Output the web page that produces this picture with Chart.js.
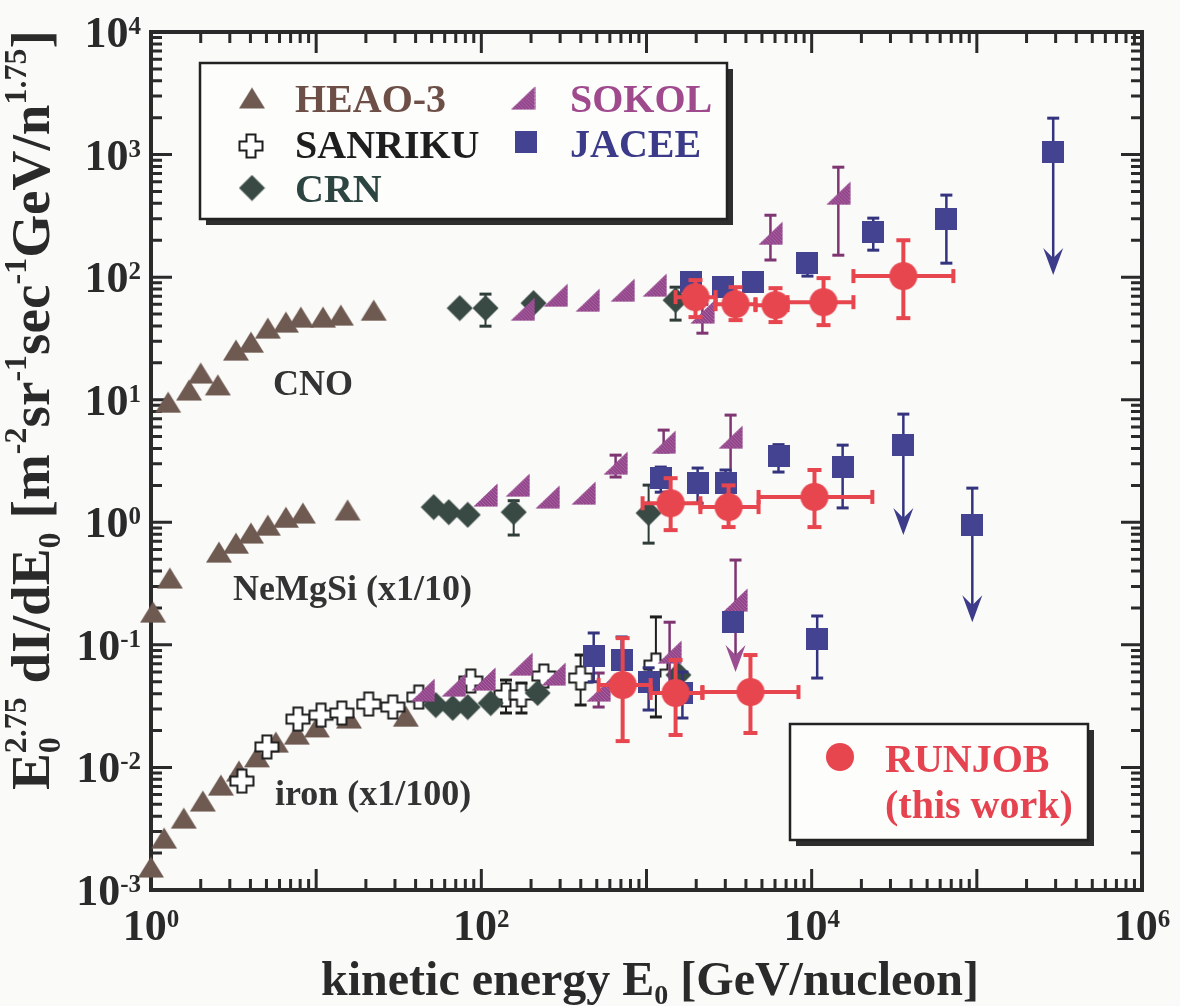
<!DOCTYPE html>
<html lang="en">
<head>
<meta charset="UTF-8">
<title>CNO, NeMgSi and iron spectra</title>
<script src="https://cdn.jsdelivr.net/npm/chart.js"></script>
<style>
  html, body { margin: 0; padding: 0; background: #fafaf8; }
  canvas { display: block; }
</style>
</head>
<body>
<canvas id="spectra" width="1180" height="1006"></canvas>
<script>
// kinetic energy E0 [GeV/nucleon] and E0^2.75 dI/dE0 for each experiment
// (NeMgSi scaled x1/10, iron scaled x1/100)

// HEAO-3
const heaoCnoE = [1.27, 1.70, 2.0, 2.54, 3.27, 4.03, 5.1, 6.56, 8.08, 11.0, 14.1, 22.3];
const heaoCnoF = [9.55, 12.0, 16.5, 13.2, 25.4, 29.5, 38.4, 43.0, 47.2, 47.2, 49.0, 53.8];
const heaoNeE = [1.03, 1.30, 2.58, 3.27, 4.03, 5.10, 6.56, 8.31, 15.5];
const heaoNeF = [0.185, 0.351, 0.571, 0.676, 0.817, 0.948, 1.10, 1.19, 1.26];
const heaoFeE = [1.0, 1.20, 1.58, 2.06, 2.65, 3.41, 4.38, 5.70, 7.64, 10.1, 15.8, 34.9];
const heaoFeF = [0.00154, 0.00265, 0.00386, 0.00532, 0.00718, 0.00935, 0.0122, 0.0161, 0.0187, 0.0214, 0.0253, 0.0262];

// SANRIKU (iron)
const sanFeE  = [3.55, 5.03, 7.75, 10.7, 14.3, 20.8, 29.1, 41.8, 86.3, 141, 175, 239, 399, 1140];
const sanFeF  = [0.00774, 0.0147, 0.0248, 0.0267, 0.0278, 0.0329, 0.0311, 0.0375, 0.0507, 0.0390, 0.0390, 0.0557, 0.0536, 0.0684];
const sanFeLo = [null, null, null, null, null, null, null, null, null, 0.0278, 0.0278, null, 0.0323, 0.0258];
const sanFeHi = [null, null, null, null, null, null, null, null, null, 0.0516, 0.0488, null, 0.0826, 0.169];

// CRN
const crnCnoE  = [74, 106, 207, 1500];
const crnCnoF  = [55.9, 55.9, 61.4, 64.9];
const crnCnoLo = [null, 39.8, null, 44.6];
const crnCnoHi = [null, 72.7, null, 82.8];
const crnNeE  = [51.5, 63.5, 82.7, 157, 1030];
const crnNeF  = [1.33, 1.21, 1.15, 1.21, 1.19];
const crnNeLo = [null, null, null, 0.787, 0.676];
const crnNeHi = [null, null, null, 1.5, 2.01];
const crnFeE = [53.0, 67.1, 82.7, 114, 219, 1560];
const crnFeF = [0.0323, 0.0306, 0.0311, 0.0335, 0.0405, 0.0568];

// SOKOL
const sokCnoE  = [178, 282, 440, 717, 1120, 2180, 5630, 14500];
const sokCnoF  = [54.8, 71.3, 64.9, 78.3, 86.1, 51.9, 228, 484];
const sokCnoLo = [null, null, null, null, null, 34.9, 138, 151];
const sokCnoHi = [null, null, null, null, null, 60, 320, 789];
const sokNeE  = [106, 166, 252, 416, 650, 1270, 3230];
const sokNeF  = [1.67, 2.01, 1.61, 1.73, 3.04, 4.51, 4.95];
const sokNeLo = [null, null, null, null, 2.34, 3.74, 2.13];
const sokNeHi = [null, null, null, null, 3.53, 5.65, 7.49];
const sokFeE   = [44.2, 68.1, 103, 173, 274, 513, 1380, 3460];
const sokFeF   = [0.0428, 0.0470, 0.0526, 0.0697, 0.0578, 0.0428, 0.0873, 0.232];
const sokFeLo  = [null, null, null, null, null, 0.0311, 0.0428, null];
const sokFeHi  = [null, null, null, null, null, 0.0589, 0.153, 0.492];
const sokFeLim = [null, null, null, null, null, null, null, 0.060];

// JACEE
const jacCnoE   = [1850, 2890, 4440, 9430, 23600, 65400, 290000];
const jacCnoF   = [91.0, 82.8, 91.0, 130, 233, 297, 1047];
const jacCnoLo  = [null, 75, null, 102, 166, 130, null];
const jacCnoHi  = [null, 98, null, 155, 303, 467, 1982];
const jacCnoLim = [null, null, null, null, null, null, 104];
const jacNeE   = [1220, 2040, 3010, 6300, 15400, 35900, 93900];
const jacNeF   = [2.29, 2.09, 2.09, 3.47, 2.82, 4.26, 0.948];
const jacNeLo  = [1.76, 1.43, 1.50, 2.57, 1.31, null, null];
const jacNeHi  = [2.82, 2.77, 2.67, 4.30, 4.26, 7.63, 1.90];
const jacNeLim = [null, null, null, null, null, 0.787, 0.153];
const jacFeE  = [479, 707, 1030, 1650, 3360, 10800];
const jacFeF  = [0.0811, 0.0752, 0.0498, 0.0405, 0.153, 0.111];
const jacFeLo = [0.050, 0.045, 0.0294, 0.0253, 0.135, 0.0536];
const jacFeHi = [0.125, 0.116, 0.065, 0.060, 0.170, 0.172];

// RUNJOB (this work)
const runCnoE   = [1980, 3460, 6040, 11800, 35900];
const runCnoF   = [68.7, 60.2, 59.1, 62.5, 102];
const runCnoLo  = [47.2, 44.6, 43.0, 40.6, 46.3];
const runCnoHi  = [94.6, 82.8, 81.3, 98.2, 200];
const runCnoELo = [1500, 2620, 4570, 7140, 17900];
const runCnoEHi = [2620, 4570, 7140, 17900, 72100];
const runNeE   = [1400, 3140, 10400];
const runNeF   = [1.43, 1.33, 1.61];
const runNeLo  = [0.863, 0.914, 0.914];
const runNeHi  = [2.29, 2.0, 2.67];
const runNeELo = [947, 2120, 4770];
const runNeEHi = [2120, 4770, 23300];
const runFeE   = [717, 1500, 4260];
const runFeF   = [0.0470, 0.0405, 0.0412];
const runFeLo  = [0.0164, 0.0184, 0.0191];
const runFeHi  = [0.1135, 0.0753, 0.0826];
const runFeELo = [513, 1060, 2180];
const runFeEHi = [1060, 2180, 8320];

// axis ticks and labels
const xTickVals = [1, 1e2, 1e4, 1e6];
const xTickExp = ['0', '2', '4', '6'];
const yTickVals = [1e-3, 1e-2, 1e-1, 1, 1e1, 1e2, 1e3, 1e4];
const yTickExp = ['-3', '-2', '-1', '0', '1', '2', '3', '4'];

const SERIF = '"Liberation Serif", "Times New Roman", serif';
const COL = {
  heao: '#6f5a52', sanriku: '#1e1e1e', crn: '#394a45',
  sokol: '#8f4388', jacee: '#434392', runjob: '#e8464f', ink: '#2a2a2a'
};

function pts(E, F, o = {}) {
  return E.map((x, i) => ({
    x, y: F[i],
    lo: o.lo ? o.lo[i] : null, hi: o.hi ? o.hi[i] : null,
    xlo: o.xlo ? o.xlo[i] : null, xhi: o.xhi ? o.xhi[i] : null,
    lim: o.lim ? o.lim[i] : null
  }));
}

// marker sprites
function sprite(w, h, paint) {
  const c = document.createElement('canvas');
  c.width = w; c.height = h;
  paint(c.getContext('2d'), w, h);
  return c;
}
const triMark = sprite(28, 23, (g, w, h) => {
  g.fillStyle = COL.heao;
  g.beginPath(); g.moveTo(w / 2, 1); g.lineTo(w - 1, h - 1); g.lineTo(1, h - 1); g.closePath(); g.fill();
});
const crossMark = sprite(26, 26, (g) => {
  const c = 13, a = 4.5, b = 11.5;
  g.beginPath();
  g.moveTo(c - a, c - b); g.lineTo(c + a, c - b); g.lineTo(c + a, c - a); g.lineTo(c + b, c - a);
  g.lineTo(c + b, c + a); g.lineTo(c + a, c + a); g.lineTo(c + a, c + b); g.lineTo(c - a, c + b);
  g.lineTo(c - a, c + a); g.lineTo(c - b, c + a); g.lineTo(c - b, c - a); g.lineTo(c - a, c - a);
  g.closePath();
  g.fillStyle = '#fff'; g.fill();
  g.lineWidth = 2; g.strokeStyle = COL.sanriku; g.stroke();
});
const diaMark = sprite(27, 27, (g) => {
  g.fillStyle = COL.crn;
  g.beginPath(); g.moveTo(13.5, 0.5); g.lineTo(26.5, 13.5); g.lineTo(13.5, 26.5); g.lineTo(0.5, 13.5); g.closePath(); g.fill();
});
const sqMark = sprite(22, 22, (g) => { g.fillStyle = COL.jacee; g.fillRect(0, 0, 22, 22); });
const dotMark = sprite(30, 30, (g) => {
  g.fillStyle = COL.runjob;
  g.beginPath(); g.arc(15, 15, 14, 0, Math.PI * 2); g.fill();
});
// SOKOL: hatched right triangle
const halfTriMark = sprite(25, 24, (g, w, h) => {
  g.beginPath(); g.moveTo(0.5, h - 0.5); g.lineTo(w - 0.5, h - 0.5); g.lineTo(w - 0.5, 0.5); g.closePath();
  g.fillStyle = COL.sokol; g.fill();
  g.save(); g.clip();
  g.strokeStyle = '#b26aa8'; g.lineWidth = 1;
  for (let k = -h; k < w + h; k += 3.5) { g.beginPath(); g.moveTo(k, 0); g.lineTo(k + h, h); g.stroke(); }
  g.restore();
});

// error bars, x ranges and upper-limit arrows, drawn just beneath each dataset
const errorBars = {
  id: 'errorBars',
  beforeDatasetDraw(chart, args) {
    const ds = chart.data.datasets[args.index];
    const st = ds.errStyle;
    if (!st) return;
    const { ctx, scales: { x, y } } = chart;
    ctx.save();
    ctx.strokeStyle = st.color; ctx.fillStyle = st.color;
    ctx.lineCap = 'butt';
    const capH = (cx, cy) => { ctx.lineWidth = st.cap; ctx.beginPath(); ctx.moveTo(cx - st.capW / 2, cy); ctx.lineTo(cx + st.capW / 2, cy); ctx.stroke(); };
    const capV = (cx, cy) => { ctx.lineWidth = st.cap; ctx.beginPath(); ctx.moveTo(cx, cy - st.capW / 2); ctx.lineTo(cx, cy + st.capW / 2); ctx.stroke(); };
    ds.data.forEach(p => {
      const px = x.getPixelForValue(p.x), py = y.getPixelForValue(p.y);
      if (p.xlo != null) {
        const l = x.getPixelForValue(p.xlo), r = x.getPixelForValue(p.xhi);
        ctx.lineWidth = st.width;
        ctx.beginPath(); ctx.moveTo(l, py); ctx.lineTo(r, py); ctx.stroke();
        capV(l, py); capV(r, py);
      }
      if (p.hi != null) {
        const top = y.getPixelForValue(p.hi);
        ctx.lineWidth = st.width;
        if (p.lim != null) {
          const tip = y.getPixelForValue(p.lim);
          ctx.beginPath(); ctx.moveTo(px, top); ctx.lineTo(px, tip - 12); ctx.stroke();
          ctx.fillStyle = st.arrow || st.color;
          ctx.beginPath();
          ctx.moveTo(px, tip); ctx.lineTo(px - 10, tip - 27); ctx.lineTo(px, tip - 17); ctx.lineTo(px + 10, tip - 27);
          ctx.closePath(); ctx.fill();
          capH(px, top);
        } else {
          const bot = y.getPixelForValue(p.lo != null ? p.lo : p.y);
          ctx.beginPath(); ctx.moveTo(px, top); ctx.lineTo(px, bot); ctx.stroke();
          capH(px, top);
          if (p.lo != null) capH(px, bot);
        }
      }
    });
    ctx.restore();
  }
};

// rich text runs: sub/superscripts as smaller shifted pieces
function runs(ctx, parts, x0, y0, draw) {
  let x = x0, hold = 0;
  for (const p of parts) {
    ctx.font = `bold ${p.s}px ${SERIF}`;
    const w = ctx.measureText(p.t).width;
    if (draw) ctx.fillText(p.t, x, y0 + (p.dy || 0));
    if (p.keep) hold = Math.max(hold, w);
    else { x += Math.max(w, hold); hold = 0; }
  }
  return x - x0;
}

function powerLabel(ctx, exp, x, y, align) {
  ctx.font = `bold 44px ${SERIF}`;
  const wb = ctx.measureText('10').width;
  ctx.font = `bold 25px ${SERIF}`;
  const we = ctx.measureText(exp).width;
  const x0 = align === 'right' ? x - wb - we : x - (wb + we) / 2;
  ctx.font = `bold 44px ${SERIF}`;
  ctx.fillText('10', x0, y);
  ctx.font = `bold 25px ${SERIF}`;
  ctx.fillText(exp, x0 + wb, y - 13);
}

function box(ctx, l, t, r, b) {
  ctx.fillStyle = '#2e2e2e';
  ctx.fillRect(l + 6, t + 6, r - l, b - t);
  ctx.fillStyle = '#fdfdfc';
  ctx.fillRect(l, t, r - l, b - t);
  ctx.strokeStyle = '#222'; ctx.lineWidth = 2.5;
  ctx.strokeRect(l, t, r - l, b - t);
}

function put(ctx, img, cx, cy) { ctx.drawImage(img, cx - img.width / 2, cy - img.height / 2); }

const frame = {
  id: 'frame',
  beforeDraw(chart) {
    const { ctx, width, height } = chart;
    ctx.save(); ctx.fillStyle = '#fafaf8'; ctx.fillRect(0, 0, width, height); ctx.restore();
  },
  beforeDatasetsDraw(chart) {
    const { ctx, chartArea: a, scales: { x, y } } = chart;
    ctx.save();
    ctx.strokeStyle = COL.ink;
    ctx.lineWidth = 3;
    for (let d = 0; d < 6; d++) {
      for (let m = 1; m <= 9; m++) {
        const px = x.getPixelForValue(m * Math.pow(10, d));
        const len = m === 1 ? 21 : 11;
        ctx.beginPath();
        ctx.moveTo(px, a.bottom); ctx.lineTo(px, a.bottom - len);
        ctx.moveTo(px, a.top); ctx.lineTo(px, a.top + len);
        ctx.stroke();
      }
    }
    for (let d = -3; d < 4; d++) {
      for (let m = 1; m <= 9; m++) {
        const py = y.getPixelForValue(m * Math.pow(10, d));
        const len = m === 1 ? 21 : 11;
        ctx.beginPath();
        ctx.moveTo(a.left, py); ctx.lineTo(a.left + len, py);
        ctx.moveTo(a.right, py); ctx.lineTo(a.right - len, py);
        ctx.stroke();
      }
    }
    ctx.lineWidth = 4;
    ctx.strokeRect(a.left, a.top, a.right - a.left, a.bottom - a.top);
    ctx.restore();
  },
  afterDraw(chart) {
    const { ctx, scales: { x, y } } = chart;
    ctx.save();
    ctx.fillStyle = COL.ink;
    ctx.textBaseline = 'alphabetic';
    ctx.textAlign = 'left';

    // tick labels
    xTickVals.forEach((v, i) => powerLabel(ctx, xTickExp[i], x.getPixelForValue(v), 940, 'center'));
    yTickVals.forEach((v, i) => powerLabel(ctx, yTickExp[i], 141, y.getPixelForValue(v) + 15, 'right'));

    // x title
    const xt = [
      { t: 'kinetic energy E', s: 48 },
      { t: '0', s: 28, dy: 9 },
      { t: ' [GeV/nucleon]', s: 48 }
    ];
    const xw = runs(ctx, xt, 0, 0, false);
    runs(ctx, xt, 650 - xw / 2, 995, true);

    // y title, fitted to the height of the frame
    const yt = B => {
      const S = Math.round(B * 0.58), up = -B * 0.42, dn = B * 0.2;
      return [
        { t: 'E', s: B }, { t: '0', s: S, dy: dn, keep: true }, { t: '2.75', s: S, dy: up },
        { t: ' dI/dE', s: B }, { t: '0', s: S, dy: dn },
        { t: ' [m', s: B }, { t: '-2', s: S, dy: up }, { t: 'sr', s: B }, { t: '-1', s: S, dy: up },
        { t: 'sec', s: B }, { t: '-1', s: S, dy: up }, { t: 'GeV/n', s: B }, { t: '1.75', s: S, dy: up },
        { t: ']', s: B }
      ];
    };
    const B = 50 * 760 / runs(ctx, yt(50), 0, 0, false);
    ctx.save();
    ctx.translate(49, 790);
    ctx.rotate(-Math.PI / 2);
    runs(ctx, yt(B), 0, 0, true);
    ctx.restore();

    // group names
    ctx.fillStyle = '#333';
    ctx.font = `bold 36px ${SERIF}`;
    ctx.fillText('CNO', 273, 395);
    ctx.fillText('NeMgSi (x1/10)', 233, 600);
    ctx.fillText('iron (x1/100)', 275, 805);

    // legend of other experiments
    box(ctx, 200, 63, 727, 219);
    put(ctx, triMark, 252, 98);
    put(ctx, crossMark, 251, 146);
    put(ctx, diaMark, 252, 188);
    put(ctx, halfTriMark, 523, 98);
    put(ctx, sqMark, 526, 142);
    ctx.font = `bold 40px ${SERIF}`;
    ctx.fillStyle = '#6d4f47'; ctx.fillText('HEAO-3', 295, 112);
    ctx.fillStyle = '#1e1e1e'; ctx.fillText('SANRIKU', 295, 158);
    ctx.fillStyle = '#2d4540'; ctx.fillText('CRN', 295, 202);
    ctx.fillStyle = '#a04a8e'; ctx.fillText('SOKOL', 570, 112);
    ctx.fillStyle = '#3b3b8a'; ctx.fillText('JACEE', 570, 157);

    // legend of this work
    box(ctx, 790, 724, 1088, 840);
    put(ctx, dotMark, 840, 757);
    ctx.fillStyle = '#e4434f';
    ctx.fillText('RUNJOB', 885, 772);
    ctx.fillText('(this work)', 885, 818);
    ctx.restore();
  }
};

const thin = c => ({ color: c, width: 2, cap: 3, capW: 12 });

const datasets = [
  {
    label: 'RUNJOB',
    data: [
      ...pts(runCnoE, runCnoF, { lo: runCnoLo, hi: runCnoHi, xlo: runCnoELo, xhi: runCnoEHi }),
      ...pts(runNeE, runNeF, { lo: runNeLo, hi: runNeHi, xlo: runNeELo, xhi: runNeEHi }),
      ...pts(runFeE, runFeF, { lo: runFeLo, hi: runFeHi, xlo: runFeELo, xhi: runFeEHi })
    ],
    pointStyle: dotMark,
    errStyle: { color: COL.runjob, width: 4, cap: 4, capW: 14 }
  },
  {
    label: 'JACEE',
    data: [
      ...pts(jacCnoE, jacCnoF, { lo: jacCnoLo, hi: jacCnoHi, lim: jacCnoLim }),
      ...pts(jacNeE, jacNeF, { lo: jacNeLo, hi: jacNeHi, lim: jacNeLim }),
      ...pts(jacFeE, jacFeF, { lo: jacFeLo, hi: jacFeHi })
    ],
    pointStyle: sqMark,
    errStyle: { color: '#33337f', width: 2.5, cap: 3, capW: 12, arrow: '#3c3c8a' }
  },
  {
    label: 'SOKOL',
    data: [
      ...pts(sokCnoE, sokCnoF, { lo: sokCnoLo, hi: sokCnoHi }),
      ...pts(sokNeE, sokNeF, { lo: sokNeLo, hi: sokNeHi }),
      ...pts(sokFeE, sokFeF, { lo: sokFeLo, hi: sokFeHi, lim: sokFeLim })
    ],
    pointStyle: halfTriMark,
    errStyle: { color: '#7e3572', width: 2.5, cap: 3, capW: 12, arrow: '#9a4e91' }
  },
  {
    label: 'CRN',
    data: [
      ...pts(crnCnoE, crnCnoF, { lo: crnCnoLo, hi: crnCnoHi }),
      ...pts(crnNeE, crnNeF, { lo: crnNeLo, hi: crnNeHi }),
      ...pts(crnFeE, crnFeF)
    ],
    pointStyle: diaMark,
    errStyle: thin('#2f3d39')
  },
  {
    label: 'SANRIKU',
    data: pts(sanFeE, sanFeF, { lo: sanFeLo, hi: sanFeHi }),
    pointStyle: crossMark,
    errStyle: thin(COL.sanriku)
  },
  {
    label: 'HEAO-3',
    data: [...pts(heaoCnoE, heaoCnoF), ...pts(heaoNeE, heaoNeF), ...pts(heaoFeE, heaoFeF)],
    pointStyle: triMark
  }
].map(d => Object.assign(d, { pointRadius: 12, pointHoverRadius: 12, clip: false, showLine: false }));

new Chart(document.getElementById('spectra'), {
  type: 'scatter',
  data: { datasets },
  options: {
    responsive: false,
    animation: false,
    events: [],
    layout: { padding: { top: 32, right: 38, left: 0, bottom: 0 } },
    plugins: { legend: { display: false }, tooltip: { enabled: false } },
    scales: {
      x: {
        type: 'logarithmic', min: 1, max: 1e6,
        ticks: { display: false }, grid: { display: false }, border: { display: false },
        afterFit: s => { s.height = 116; }
      },
      y: {
        type: 'logarithmic', min: 1e-3, max: 1e4,
        ticks: { display: false }, grid: { display: false }, border: { display: false },
        afterFit: s => { s.width = 151; }
      }
    }
  },
  plugins: [frame, errorBars]
});
</script>
</body>
</html>
